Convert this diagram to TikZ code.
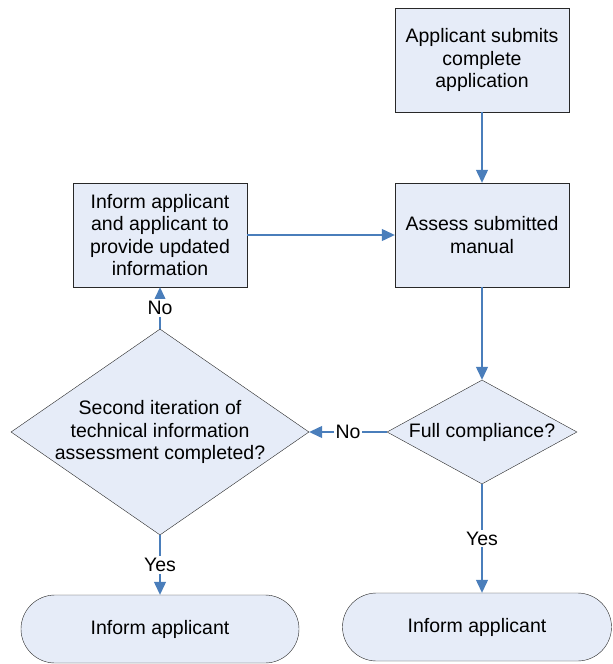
\documentclass[tikz,border=0pt]{standalone}
\usepackage{fontspec}
\setmainfont{Liberation Sans}
\usetikzlibrary{shapes.geometric,shapes.misc,arrows.meta}
\definecolor{boxfill}{RGB}{230,236,248}
\definecolor{flowblue}{RGB}{74,126,187}
\definecolor{edgegray}{RGB}{40,40,40}

\begin{document}
\begin{tikzpicture}[x=1pt,y=-1pt,
		every node/.style={font=\fontsize{19.5}{22.5}\selectfont,align=center},
		proc/.style={rectangle,draw=edgegray,fill=boxfill,minimum width=174pt,minimum height=104pt,inner sep=0pt},
		decision/.style={diamond,draw=edgegray,fill=boxfill,inner sep=0pt},
		terminal/.style={rounded rectangle,draw=edgegray,fill=boxfill,minimum height=68pt,inner sep=0pt},
		flow/.style={draw=flowblue,line width=1.2pt,-{Triangle[width=12pt,length=13pt]}},
		lbl/.style={fill=white,inner sep=2pt}]
		\useasboundingbox (0,0) rectangle (613,664);
		\node[proc] (submit) at (482,60) {Applicant submits\\complete\\application};
		\node[proc] (assess) at (482,235) {Assess submitted\\manual};
		\node[proc] (inform) at (160,235) {Inform applicant\\and applicant to\\provide updated\\information};
		\node[decision,minimum width=190pt,minimum height=104pt] (full) at (482,432) {};
		\node (fulltext) at (full) {Full compliance?};
		\node[decision,minimum width=298pt,minimum height=206pt] (second) at (160,432) {};
		\node (secondtext) at (second) {Second iteration of\\technical information\\assessment completed?};
		\node[terminal,minimum width=278pt] (endleft) at (160,629) {Inform applicant};
		\node[terminal,minimum width=269pt] (endright) at (477,627) {Inform applicant};
		\draw[flow] (submit) -- (assess);
		\draw[flow] (inform) -- (assess);
		\draw[flow] (assess) -- (full);
		\draw[flow] (full) -- node[lbl] {No} (second);
		\draw[flow] (second) -- node[lbl] {No} (inform);
		\draw[flow] (second) -- node[lbl] {Yes} (endleft);
		\draw[flow] (full.south) -- node[lbl] {Yes} (full.south |- endright.north);
	\end{tikzpicture}
\end{document}
